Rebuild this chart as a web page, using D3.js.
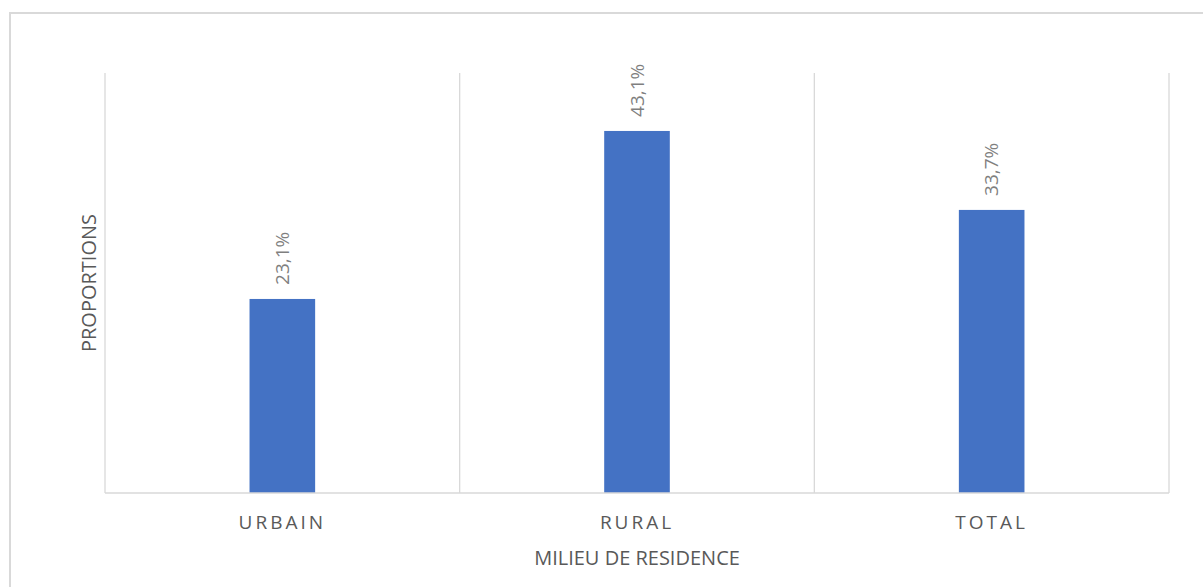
<!DOCTYPE html>
<html>
<head>
<meta charset="utf-8">
<script src="https://cdn.jsdelivr.net/npm/d3@7"></script>
<style>
  html, body { margin: 0; padding: 0; background: #fff; }
  svg { display: block; font-family: "Open Sans", sans-serif; }
</style>
</head>
<body>
<svg id="chart" width="1203" height="587"></svg>
<script>
// Proportions par milieu de résidence
const categories = ["URBAIN", "RURAL", "TOTAL"];
const values = [23.1, 43.1, 33.7];
const yDomain = [0, 50];
const xTitle = "MILIEU DE RESIDENCE";
const yTitle = "PROPORTIONS";

const svg = d3.select("#chart");
const W = 1203, H = 587;
const plot = { left: 105, right: 1169, top: 73, bottom: 493 };

const fmt = v => d3.format(".1f")(v).replace(".", ",") + "%";

// Outer chart frame
svg.append("rect")
  .attr("x", 10).attr("y", 13)
  .attr("width", W + 20).attr("height", H + 20)
  .attr("fill", "#fff")
  .attr("stroke", "#d9d9d9").attr("stroke-width", 2);

const x = d3.scaleBand()
  .domain(categories)
  .range([plot.left, plot.right])
  .paddingInner(0).paddingOuter(0);

const y = d3.scaleLinear().domain(yDomain).range([plot.bottom, plot.top]);

// Vertical separators between categories
const seps = categories.map(c => x(c)).concat([x(categories[categories.length - 1]) + x.bandwidth()]);
svg.append("g").selectAll("line")
  .data(seps)
  .join("line")
  .attr("x1", d => d).attr("x2", d => d)
  .attr("y1", y(yDomain[1])).attr("y2", y(0))
  .attr("stroke", "#d9d9d9").attr("stroke-width", 1.3);

// Bars
const barW = x.bandwidth() * 0.185;
svg.append("g").selectAll("rect")
  .data(values)
  .join("rect")
  .attr("x", (d, i) => x(categories[i]) + x.bandwidth() / 2 - barW / 2)
  .attr("y", d => y(d))
  .attr("width", barW)
  .attr("height", d => y(0) - y(d))
  .attr("fill", "#4472c4");

// Category axis line
svg.append("line")
  .attr("x1", plot.left).attr("x2", plot.right)
  .attr("y1", y(0)).attr("y2", y(0))
  .attr("stroke", "#d9d9d9").attr("stroke-width", 1.5);

// Value labels, rotated
svg.append("g").selectAll("text")
  .data(values)
  .join("text")
  .attr("transform", (d, i) => {
    const cx = x(categories[i]) + x.bandwidth() / 2;
    return `translate(${cx},${y(d) - 14}) rotate(-90)`;
  })
  .attr("dy", "0.35em")
  .attr("text-anchor", "start")
  .attr("font-size", 19)
  .attr("fill", "#7f7f7f")
  .text(d => fmt(d));

// Category tick labels
svg.append("g").selectAll("text")
  .data(categories)
  .join("text")
  .attr("x", d => x(d) + x.bandwidth() / 2)
  .attr("y", 529)
  .attr("text-anchor", "middle")
  .attr("font-size", 19)
  .attr("letter-spacing", "3px")
  .attr("fill", "#595959")
  .text(d => d);

// Axis titles
svg.append("text")
  .attr("x", (plot.left + plot.right) / 2)
  .attr("y", 565)
  .attr("text-anchor", "middle")
  .attr("font-size", 20)
  .attr("fill", "#595959")
  .text(xTitle);

svg.append("text")
  .attr("transform", `translate(96,${(plot.top + plot.bottom) / 2}) rotate(-90)`)
  .attr("text-anchor", "middle")
  .attr("font-size", 20)
  .attr("fill", "#595959")
  .text(yTitle);
</script>
</body>
</html>
